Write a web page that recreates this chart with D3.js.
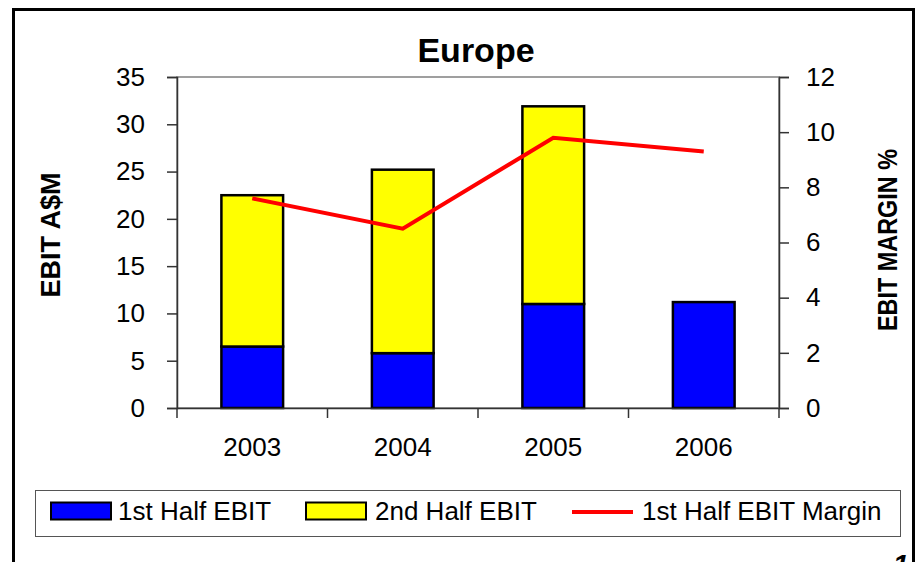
<!DOCTYPE html>
<html>
<head>
<meta charset="utf-8">
<script src="https://cdn.jsdelivr.net/npm/d3@7"></script>
<style>
  html, body { margin: 0; padding: 0; background: #fff; }
  svg { display: block; font-family: "Liberation Sans", Arial, sans-serif; }
</style>
</head>
<body>
<svg id="chart" width="915" height="562"></svg>
<script>
// Europe EBIT by half-year, with first-half EBIT margin
const years = ["2003", "2004", "2005", "2006"];
const firstHalfEbit = [6.5, 5.8, 11.0, 11.2];
const secondHalfEbit = [16.0, 19.4, 20.9, 0];
const firstHalfMargin = [7.6, 6.5, 9.8, 9.3];
const leftTicks = [0, 5, 10, 15, 20, 25, 30, 35];
const rightTicks = [0, 2, 4, 6, 8, 10, 12];
const seriesNames = ["1st Half EBIT", "2nd Half EBIT", "1st Half EBIT Margin"];

const svg = d3.select("#chart");
const plot = { left: 177, right: 779, top: 77, bottom: 408 };

// Outer frame
svg.append("rect")
  .attr("x", 13.5).attr("y", 9.5).attr("width", 900).attr("height", 620)
  .attr("fill", "#fff").attr("stroke", "#000").attr("stroke-width", 3);

// Scales
const xBand = d3.scaleBand().domain(years).range([plot.left, plot.right])
  .paddingInner(0.59).paddingOuter(0.295);
const xCat = d3.scaleBand().domain(years).range([plot.left, plot.right]).padding(0);
const yL = d3.scaleLinear().domain([0, 35]).range([plot.bottom, plot.top]);
const yR = d3.scaleLinear().domain([0, 12]).range([plot.bottom, plot.top]);

// Plot area border
svg.append("rect")
  .attr("x", plot.left).attr("y", plot.top)
  .attr("width", plot.right - plot.left).attr("height", plot.bottom - plot.top)
  .attr("fill", "none").attr("stroke", "#808080").attr("stroke-width", 1.5);

// Title
svg.append("text")
  .attr("x", 476).attr("y", 61.5)
  .attr("text-anchor", "middle")
  .attr("font-size", 34).attr("font-weight", "bold")
  .text("Europe");

// Stacked bars
const rows = years.map((y, i) => ({ year: y, first: firstHalfEbit[i], second: secondHalfEbit[i] }));
const stacked = d3.stack().keys(["first", "second"])(rows);
const fills = { first: "#0000ff", second: "#ffff00" };

svg.append("g").selectAll("g")
  .data(stacked)
  .join("g")
  .attr("fill", d => fills[d.key])
  .selectAll("rect")
  .data(d => d.filter(s => s[1] - s[0] > 0))
  .join("rect")
  .attr("x", d => xBand(d.data.year))
  .attr("width", xBand.bandwidth())
  .attr("y", d => yL(d[1]))
  .attr("height", d => yL(d[0]) - yL(d[1]))
  .attr("stroke", "#000")
  .attr("stroke-width", 2.5);

// Margin line (right axis)
const line = d3.line()
  .x((d, i) => xCat(years[i]) + xCat.bandwidth() / 2)
  .y(d => yR(d));
svg.append("path")
  .datum(firstHalfMargin)
  .attr("d", line)
  .attr("fill", "none")
  .attr("stroke", "#ff0000")
  .attr("stroke-width", 4);

// Left axis
const leftAxis = d3.axisLeft(yL).tickValues(leftTicks).tickSize(10).tickPadding(22);
const gL = svg.append("g").attr("transform", `translate(${plot.left},0)`).call(leftAxis);

// Right axis
const rightAxis = d3.axisRight(yR).tickValues(rightTicks).tickSize(10).tickPadding(17);
const gR = svg.append("g").attr("transform", `translate(${plot.right},0)`).call(rightAxis);

// Bottom axis: labels centred, ticks on category boundaries
const bottomAxis = d3.axisBottom(xCat).tickSize(0).tickPadding(30);
const gB = svg.append("g").attr("transform", `translate(0,${plot.bottom})`).call(bottomAxis);
const boundaries = years.map(y => xCat(y)).concat([plot.right]);
gB.selectAll(".bound")
  .data(boundaries)
  .join("line")
  .attr("class", "bound")
  .attr("x1", d => d).attr("x2", d => d)
  .attr("y1", 0).attr("y2", 10)
  .attr("stroke", "#333").attr("stroke-width", 1.5);

[gL, gR, gB].forEach(g => {
  g.select(".domain").attr("stroke", "#333").attr("stroke-width", 1.5);
  g.selectAll(".tick line").attr("stroke", "#333").attr("stroke-width", 1.5);
  g.selectAll("text")
    .attr("font-family", "'Liberation Sans', Arial, sans-serif")
    .attr("font-size", 26).attr("fill", "#000");
});

// Axis titles
svg.append("text")
  .attr("transform", "translate(60,235) rotate(-90)")
  .attr("text-anchor", "middle")
  .attr("font-size", 27).attr("font-weight", "bold")
  .text("EBIT A$M");
svg.append("text")
  .attr("transform", "translate(897,240) rotate(-90)")
  .attr("text-anchor", "middle")
  .attr("font-size", 28).attr("font-weight", "bold")
  .attr("textLength", 182).attr("lengthAdjust", "spacingAndGlyphs")
  .text("EBIT MARGIN %");

// Legend
const legend = svg.append("g");
legend.append("rect")
  .attr("x", 35.5).attr("y", 490.5).attr("width", 865).attr("height", 46)
  .attr("fill", "#fff").attr("stroke", "#555").attr("stroke-width", 1);
const legendItems = [
  { name: seriesNames[0], type: "box", color: "#0000ff", x: 51, tx: 118 },
  { name: seriesNames[1], type: "box", color: "#ffff00", x: 306, tx: 375 },
  { name: seriesNames[2], type: "line", color: "#ff0000", x: 572, tx: 642 }
];
legendItems.forEach(it => {
  if (it.type === "box") {
    legend.append("rect")
      .attr("x", it.x).attr("y", 502.5).attr("width", 60).attr("height", 17)
      .attr("fill", it.color).attr("stroke", "#000").attr("stroke-width", 2);
  } else {
    legend.append("line")
      .attr("x1", it.x).attr("x2", it.x + 61)
      .attr("y1", 512).attr("y2", 512)
      .attr("stroke", it.color).attr("stroke-width", 4);
  }
  legend.append("text")
    .attr("x", it.tx).attr("y", 519.5)
    .attr("font-size", 26)
    .text(it.name);
});

// Page number peeking in at the bottom-right corner, clipped by the frame
svg.append("clipPath").attr("id", "frameClip")
  .append("rect").attr("x", 0).attr("y", 0).attr("width", 912).attr("height", 562);
svg.append("text")
  .attr("clip-path", "url(#frameClip)")
  .attr("x", 893).attr("y", 574)
  .attr("font-size", 28).attr("font-weight", "bold").attr("font-style", "italic")
  .text("14");
</script>
</body>
</html>
